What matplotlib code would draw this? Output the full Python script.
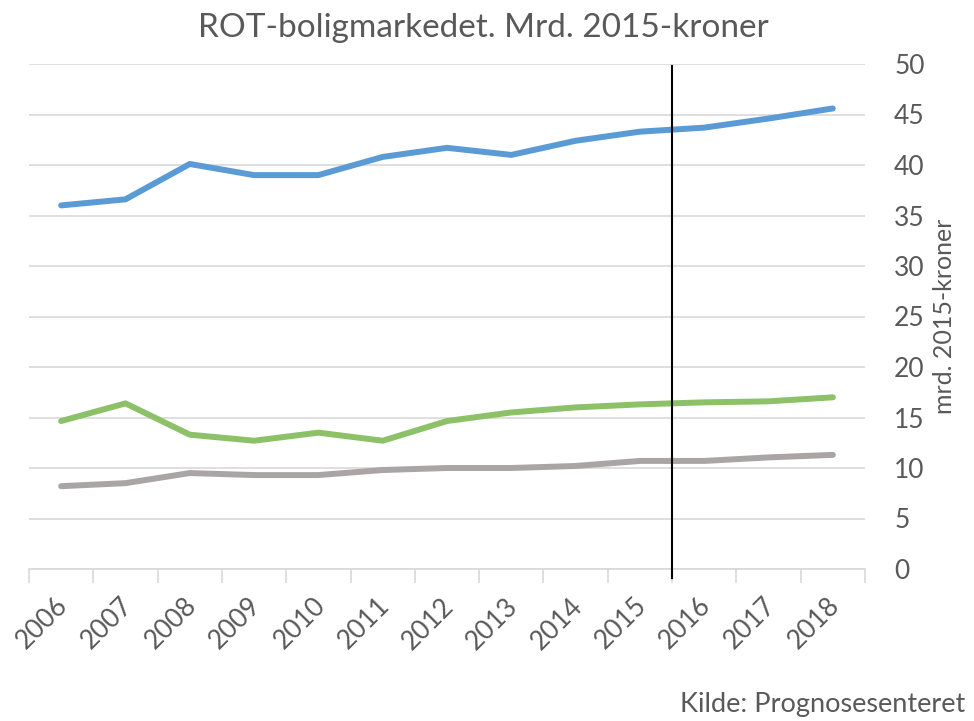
import matplotlib
matplotlib.use("Agg")
import matplotlib.pyplot as plt
import matplotlib.transforms as mtransforms
import numpy as np

years = ["2006", "2007", "2008", "2009", "2010", "2011", "2012",
         "2013", "2014", "2015", "2016", "2017", "2018"]
blue = [36.0, 36.6, 40.1, 39.0, 39.0, 40.8, 41.7, 41.0, 42.4, 43.3, 43.7, 44.6, 45.6]
green = [14.65, 16.4, 13.3, 12.7, 13.5, 12.7, 14.65, 15.5, 16.0, 16.3, 16.5, 16.6, 17.0]
gray = [8.2, 8.5, 9.5, 9.3, 9.3, 9.8, 10.0, 10.0, 10.2, 10.7, 10.7, 11.05, 11.3]
y_ticks = [0, 5, 10, 15, 20, 25, 30, 35, 40, 45, 50]
divider_after = "2015"

plt.rcParams['font.family'] = ['Lato', 'DejaVu Sans']
txt = '#595959'
gridc = '#d9d9d9'

fig = plt.figure(figsize=(9.74, 7.21), dpi=100)
ax = fig.add_axes([29/974, 1-569/721, (865-29)/974, (569-64)/721])

x = np.arange(len(years))
ax.plot(x, blue, color='#5b9bd5', lw=4.3, solid_capstyle='round', solid_joinstyle='round', zorder=3)
ax.plot(x, green, color='#8cc168', lw=4.3, solid_capstyle='round', solid_joinstyle='round', zorder=3)
ax.plot(x, gray, color='#a9a5a5', lw=4.3, solid_capstyle='round', solid_joinstyle='round', zorder=3)

ax.set_xlim(-0.5, len(years) - 0.5)
ax.set_ylim(0, 50)

xd = years.index(divider_after) + 0.5
ax.plot([xd, xd], [-0.9, 49.8], color='black', lw=1.5, clip_on=False, zorder=4)

ax.yaxis.tick_right()
ax.yaxis.set_label_position('right')
ax.set_yticks(y_ticks)
ax.set_yticklabels([str(v) for v in y_ticks], fontsize=19, color=txt)
ax.tick_params(axis='y', length=0, pad=21)
ax.grid(axis='y', color=gridc, lw=1.2)
ax.set_axisbelow(True)

ax.set_xticks(np.arange(-0.5, len(years), 1.0))
ax.set_xticklabels([])
ax.set_xticks(x, minor=True)
ax.set_xticklabels(years, minor=True, rotation=45, ha='right', va='top',
                   rotation_mode='anchor', fontsize=19, color=txt)
ax.tick_params(axis='x', which='major', length=10, color=gridc, width=1.2)
ax.tick_params(axis='x', which='minor', length=0, pad=13)
offset = mtransforms.ScaledTranslation(-6/100, -6/100, fig.dpi_scale_trans)
for lab in ax.xaxis.get_minorticklabels():
    lab.set_transform(lab.get_transform() + offset)

for s in ['top', 'left', 'right']:
    ax.spines[s].set_visible(False)
ax.spines['bottom'].set_color(gridc)
ax.spines['bottom'].set_linewidth(1.2)

ax.set_ylabel('mrd. 2015-kroner', fontsize=18, color=txt, labelpad=6)

fig.text(483/974, 1-37/721, 'ROT-boligmarkedet. Mrd. 2015-kroner', ha='center', va='baseline',
         fontsize=24, color=txt)
fig.text(965/974, 1-712/721, 'Kilde: Prognosesenteret', ha='right', va='baseline',
         fontsize=19.5, color=txt)

fig.savefig('out.png', dpi=100)
